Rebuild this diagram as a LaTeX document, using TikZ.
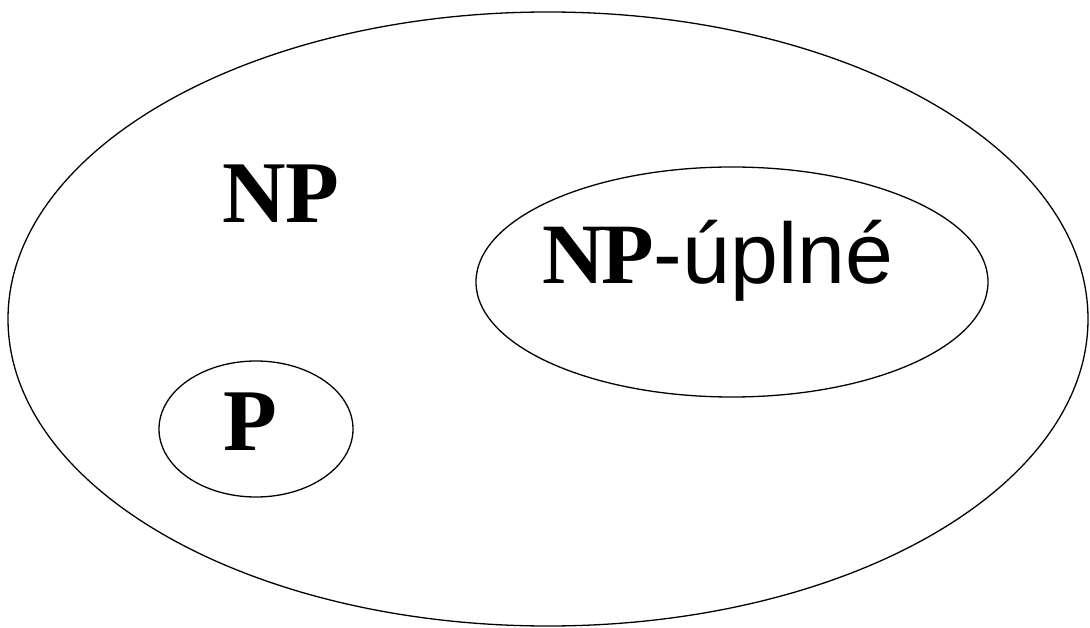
\documentclass[tikz,border=0pt]{standalone}
\usepackage{fontspec}
\setmainfont{Liberation Serif}
\newfontfamily\arialfont{Liberation Sans}
\usetikzlibrary{shapes.geometric}
\tikzset{
  setbox/.style={draw=black, line width=1.3pt, ellipse, inner sep=0pt},
  classlabel/.style={inner sep=0pt, anchor=base, font=\fontsize{88}{88}\selectfont\bfseries},
}
\begin{document}
\begin{tikzpicture}[x=1pt, y=-1pt]
  \useasboundingbox (0,0) rectangle (1090,628);
  % class regions
  \node[setbox, minimum width=1080pt, minimum height=614pt] (np) at (548,319) {};
  \node[setbox, minimum width=512pt, minimum height=230pt] (npc) at (732,282) {};
  \node[setbox, minimum width=194pt, minimum height=136pt] (p) at (256,429) {};
  % labels
  \node[classlabel] (nplabel) at (281,223) {NP};
  \node[classlabel] (plabel) at (250,450) {P};
  \node[inner sep=0pt, anchor=base west, font=\fontsize{86}{86}\selectfont] (npclabel) at (542,284)
    {\textbf{N\kern-3ptP}{\arialfont -úplné}};
\end{tikzpicture}
\end{document}
